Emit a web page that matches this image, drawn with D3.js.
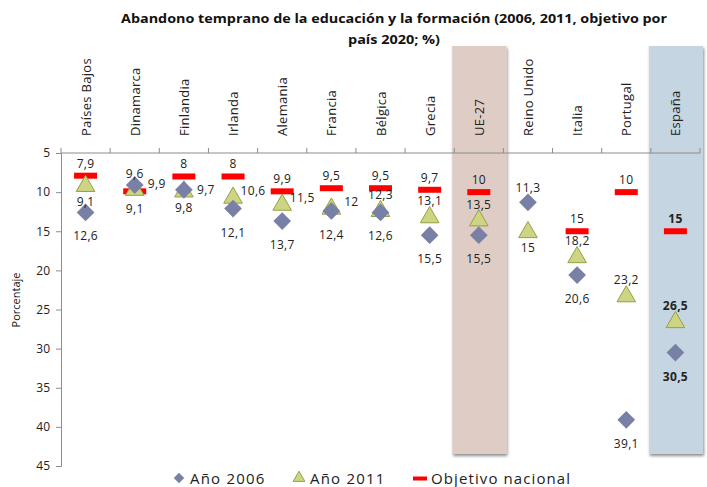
<!DOCTYPE html>
<html><head><meta charset="utf-8">
<script src="https://cdn.jsdelivr.net/npm/d3@7"></script>
<style>
body{margin:0;background:#fff;}
svg text{font-family:"Open Sans","Noto Sans",sans-serif;}
</style></head>
<body><svg id="c" width="707" height="487"></svg>
<script>
const categories = ["Países Bajos","Dinamarca","Finlandia","Irlanda","Alemania","Francia","Bélgica","Grecia","UE-27","Reino Unido","Italia","Portugal","España"];
const values2006 = [12.6, 9.1, 9.7, 12.1, 13.7, 12.4, 12.6, 15.5, 15.5, 11.3, 20.6, 39.1, 30.5];
const values2011 = [9.1, 9.6, 9.8, 10.6, 11.5, 12, 12.3, 13.1, 13.5, 15, 18.2, 23.2, 26.5];
const objetivo   = [7.9, 9.9, 8, 8, 9.9, 9.5, 9.5, 9.7, 10, null, 15, 10, 15];
// label placement codes: b = below, a = above, r = right
const lab2006 = ["b","b","r","b","b","b","b","b","b","a","b","b","b"];
const lab2011 = ["b","a","b","r","r","r","a","a","a","b","a","a","a"];
const labObj  = ["a","r","a","a","a","a","a","a","a","a","a","a","a"];
const yTicks = [5,10,15,20,25,30,35,40,45];
const highlighted = {"UE-27":"#dfccc5","España":"#c5d5e2"};
const boldCats = ["España"];

const svg = d3.select("#c");
const fmt = v => String(v).replace(".", ",");
const x = d3.scaleBand().domain(categories).range([61, 700]).padding(0);
const y = d3.scaleLinear().domain([5, 45]).range([153, 466]);

// shadow filter
const defs = svg.append("defs");
const f = defs.append("filter").attr("id","sh").attr("x","-10%").attr("y","-10%").attr("width","130%").attr("height","130%");
f.append("feGaussianBlur").attr("in","SourceAlpha").attr("stdDeviation",1.5);
f.append("feOffset").attr("dx",0.5).attr("dy",2).attr("result","o");
f.append("feComponentTransfer").append("feFuncA").attr("type","linear").attr("slope",0.45);
const m = f.append("feMerge"); m.append("feMergeNode"); m.append("feMergeNode").attr("in","SourceGraphic");

// highlight bands
Object.keys(highlighted).forEach(c => {
  svg.append("rect").attr("x", x(c) - 2).attr("y", 46).attr("width", x.bandwidth() + 5)
    .attr("height", 408).attr("fill", highlighted[c]).attr("filter","url(#sh)");
});

// title
svg.append("text").attr("x", 394).attr("y", 23).attr("text-anchor","middle")
  .attr("font-weight","bold").attr("font-size",13).attr("fill","#111")
  .attr("textLength",546).attr("lengthAdjust","spacingAndGlyphs")
  .text("Abandono temprano de la educación  y la formación (2006, 2011, objetivo por");
svg.append("text").attr("x", 394).attr("y", 44).attr("text-anchor","middle")
  .attr("font-weight","bold").attr("font-size",13).attr("fill","#111")
  .attr("textLength",92).attr("lengthAdjust","spacingAndGlyphs")
  .text("país 2020; %)");

// y axis
const yAxis = svg.append("g").attr("transform","translate(61,0)")
  .call(d3.axisLeft(y).tickValues(yTicks).tickSize(5).tickPadding(6));
yAxis.select(".domain").attr("stroke","#8c8c8c");
yAxis.selectAll(".tick line").attr("stroke","#8c8c8c");
yAxis.selectAll("text").attr("font-size",12).attr("fill","#222").attr("font-family","Open Sans, sans-serif");

// top category axis (ticks at boundaries)
const bounds = categories.map(c => x(c)).concat([x.range()[1]]);
svg.append("line").attr("x1",61).attr("x2",700).attr("y1",153).attr("y2",153).attr("stroke","#8c8c8c");
svg.selectAll(".bt").data(bounds).join("line")
  .attr("x1", d => d).attr("x2", d => d).attr("y1",148).attr("y2",153).attr("stroke","#8c8c8c");

// category labels
svg.selectAll(".cl").data(categories).join("text")
  .attr("transform", d => `translate(${x(d) + x.bandwidth()/2 + 5},136) rotate(-90)`)
  .attr("font-size",13).attr("fill","#222").attr("letter-spacing",0.3).text(d => d);

// y title
svg.append("text").attr("transform","translate(20,300) rotate(-90)").attr("text-anchor","middle")
  .attr("font-size",11).attr("fill","#111").text("Porcentaje");

const cx = c => x(c) + x.bandwidth()/2;
const diamond = d3.symbol().type(d3.symbolDiamond2).size(200);
const tri = d3.symbol().type(d3.symbolTriangle).size(150);

// objective bars
const objData = categories.map((c,i)=>({c, v:objetivo[i], l:labObj[i]})).filter(d=>d.v!=null);
svg.selectAll(".ob").data(objData).join("rect")
  .attr("x", d => cx(d.c) - 11.5).attr("y", d => y(d.v) - 3).attr("width",23).attr("height",6)
  .attr("fill","#ff0000");

// 2011 triangles
const d11 = categories.map((c,i)=>({c, v:values2011[i], l:lab2011[i]}));
svg.selectAll(".t").data(d11).join("path")
  .attr("d", tri).attr("transform", d => `translate(${cx(d.c)},${y(d.v)+1})`)
  .attr("fill","#cdd584").attr("stroke","#95a043").attr("stroke-width",1);

// 2006 diamonds
const d06 = categories.map((c,i)=>({c, v:values2006[i], l:lab2006[i]}));
svg.selectAll(".d").data(d06).join("path")
  .attr("d", diamond).attr("transform", d => `translate(${cx(d.c)},${y(d.v)})`)
  .attr("fill","#7880a6");

// data labels
function addLabels(data, cls, off) {
  svg.selectAll("." + cls).data(data).join("text")
    .attr("x", d => cx(d.c) + (d.l === "r" ? off.r[0] : 0))
    .attr("y", d => y(d.v) + (d.l === "a" ? off.a : d.l === "b" ? off.b : off.r[1]))
    .attr("text-anchor","middle")
    .attr("font-size",12).attr("fill","#222").attr("letter-spacing",0.3)
    .attr("font-weight", d => boldCats.includes(d.c) ? "bold" : "normal")
    .text(d => fmt(d.v));
}
addLabels(d06, "l06", {a:-10, b:28, r:[22,4]});
addLabels(d11, "l11", {a:-11, b:21, r:[20,-2]});
addLabels(objData, "lob", {a:-8, b:20, r:[22,-3]});

// legend
const ly = 478;
svg.append("path").attr("d", d3.symbol().type(d3.symbolDiamond2).size(70)).attr("transform",`translate(179,${ly})`).attr("fill","#7880a6");
svg.append("text").attr("x",190).attr("y",ly+6).attr("font-size",15).attr("fill","#222").attr("letter-spacing",1.2).text("Año 2006");
svg.append("path").attr("d", d3.symbol().type(d3.symbolTriangle).size(60)).attr("transform",`translate(299,${ly})`).attr("fill","#cdd584").attr("stroke","#95a043");
svg.append("text").attr("x",310).attr("y",ly+6).attr("font-size",15).attr("fill","#222").attr("letter-spacing",1.2).text("Año 2011");
svg.append("rect").attr("x",413).attr("y",ly-1.5).attr("width",14).attr("height",4).attr("fill","#ff0000");
svg.append("text").attr("x",431).attr("y",ly+6).attr("font-size",15).attr("fill","#222").attr("letter-spacing",1.1).text("Objetivo nacional");
</script></body></html>
